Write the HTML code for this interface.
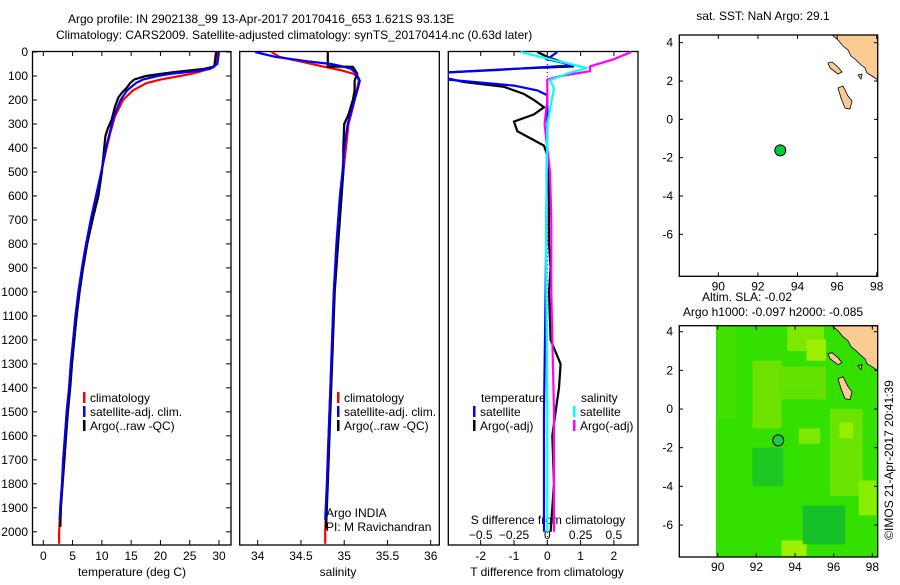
<!DOCTYPE html>
<html><head><meta charset="utf-8"><style>
body{margin:0;background:#fff;}
svg text{font-family:"Liberation Sans",sans-serif;font-size:12px;fill:#000;}
</style></head><body>
<svg id="c" width="900" height="580" xmlns="http://www.w3.org/2000/svg">
<text x="68" y="23">Argo profile: IN 2902138_99 13-Apr-2017 20170416_653 1.621S 93.13E</text>
<text x="56" y="39">Climatology: CARS2009. Satellite-adjusted climatology: synTS_20170414.nc (0.63d later)</text>
<g id="g"></g>
</svg>
<script>
// ---- data ----
const climTDepth=[0,50,65,80,90,100,115,130,160,200,270,340,400,500,600,700,800,900,1000,1100,1200,1300,1400,1500,1600,1700,1800,1900,2000,2050];
const climT=[29.7,29.5,29,27,25.5,23.3,20,17.6,15.3,13.6,12.2,11.4,10.8,9.9,9.1,8.2,7.3,6.6,6.0,5.5,5.1,4.7,4.4,4.0,3.7,3.4,3.2,2.9,2.7,2.7];
const satTDepth=[0,50,70,80,90,100,115,130,160,200,270,340,400,500,600,700,800,900,1000,1100,1200,1300,1400,1500,1600,1700,1800,1900,1950];
const satT=[30,29.7,28.5,26,22,19.5,17,15.8,14.3,13.2,12.0,11.3,10.7,9.9,9.0,8.1,7.3,6.6,6.0,5.5,5.1,4.7,4.4,4.0,3.7,3.4,3.2,2.9,2.8];
const argoTDepth=[0,60,70,85,100,115,130,150,170,190,230,280,320,350,400,500,600,700,800,900,1000,1100,1200,1300,1400,1500,1600,1700,1800,1900,1980];
const argoT=[29.5,29.2,27.5,22,17.5,15.5,14.8,14.2,13.4,12.8,12.2,11.7,11.0,10.6,10.4,10.0,9.4,8.4,7.5,6.8,6.2,5.7,5.3,4.9,4.6,4.2,3.9,3.6,3.3,3.0,2.9];
const climSDepth=[0,20,40,60,75,90,100,120,150,200,260,300,400,500,600,800,1000,1200,1400,1600,1800,2000,2050];
const climS=[34.16,34.25,34.5,34.75,34.95,35.1,35.15,35.17,35.15,35.12,35.08,35.05,35.02,34.99,34.96,34.92,34.88,34.86,34.84,34.82,34.8,34.78,34.78];
const satSDepth=[0,20,30,40,50,60,70,90,120,150,200,260,300,400,500,600,800,1000,1200,1400,1600,1800,1950];
const satS=[33.97,34.2,34.4,34.6,34.85,34.98,35.08,35.14,35.18,35.16,35.12,35.07,35.04,35.0,34.98,34.95,34.91,34.88,34.86,34.84,34.82,34.8,34.78];
const argoSDepth=[0,60,62,90,120,160,200,260,300,400,500,600,800,1000,1200,1400,1600,1800,1990];
const argoS=[34.81,34.81,35.1,35.15,35.12,35.12,35.1,35.05,35.0,34.99,34.99,34.97,34.93,34.89,34.87,34.85,34.83,34.81,34.79];
const dTsatDepth=[0,30,55,75,85,100,115,125,140,160,180,300,1000,1500,2000];
const dTsat=[0.3,0,0.8,-1.5,-3,-3,-3,-2.2,-1.0,-0.3,0,0,-0.05,-0.1,-0.1];
const dTargoDepth=[0,20,60,70,85,110,125,145,175,200,230,260,290,330,360,390,430,600,800,900,1000,1200,1300,1400,1500,1600,1800,1900,2000];
const dTargo=[-0.3,0,0.8,-1,-3,-3,-2.5,-1.3,-0.7,-0.4,-0.1,-0.4,-1.0,-0.9,-0.5,-0.1,0,0.05,0.05,0.1,0.05,0.1,0.4,0.35,0.25,0.15,0.2,0.15,0.1];
const dSsatDepth=[0,30,67,90,117,150,300,800,1500,2000];
const dSsat=[-0.2,0.02,0.3,0.15,0.02,0.05,0,-0.01,0,0];
const dSargoDepth=[0,30,60,80,100,115,200,300,500,700,1000,1500,2000];
const dSargo=[0.63,0.5,0.32,0.32,0.1,0,0,-0.02,0.02,0.03,0.03,0.05,0.05];
const depthTicks=[0,100,200,300,400,500,600,700,800,900,1000,1100,1200,1300,1400,1500,1600,1700,1800,1900,2000];
const tTicks=[0,5,10,15,20,25,30];
const sTicks=[34,34.5,35,35.5,36];
const dTTicks=[-2,-1,0,1,2];
const dSTicks=[-0.5,-0.25,0,0.25,0.5];
const latTicks=[4,2,0,-2,-4,-6];
const lonTicks=[90,92,94,96,98];
const argoLon=93.13, argoLat=-1.621;

// ---- scales ----
const yD=d=>52+d*0.2399;
const xT=t=>43.3+t*5.857;
const xS=s=>257.7+(s-34)*86.5;
const xdT=t=>547.3+t*33.3;
const xdS=s=>547.3+s*133.2;
const NS='http://www.w3.org/2000/svg';
const G=document.getElementById('g');
function mk(tag,attrs,parent){const e=document.createElementNS(NS,tag);for(const k in attrs)e.setAttribute(k,attrs[k]);(parent||G).appendChild(e);return e;}
function txt(x,y,s,anchor,parent){const e=mk('text',{x:x,y:y,'text-anchor':anchor||'start'},parent);e.textContent=s;return e;}
function line(xs,ds,fx,color,w,name,clipId){
  const pts=xs.map((v,i)=>fx(v).toFixed(1)+','+yD(ds[i]).toFixed(1)).join(' ');
  const p=mk('polyline',{points:pts,fill:'none',stroke:color,'stroke-width':w,'clip-path':'url(#'+clipId+')'});
  
  
}
const defs=mk('defs',{});
function clip(id,x,y,w,h){const c=mk('clipPath',{id:id},defs);mk('rect',{x:x,y:y,width:w,height:h},c);}
function frame(x0,x1,name){const r=mk('rect',{x:x0,y:51.5,width:x1-x0,height:493.5,fill:'none',stroke:'#000','stroke-width':1.3});
  
  }
clip('c1',33,51,198,494);clip('c2',240,51,199,494);clip('c3',448,51,190,494);
frame(32.5,231,'temperature-panel');frame(239.7,439.3,'salinity-panel');frame(448.3,638,'difference-panel');
depthTicks.forEach(d=>{const y=yD(d);
  mk('line',{x1:32.5,x2:37,y1:y,y2:y,stroke:'#000'});mk('line',{x1:226,x2:231,y1:y,y2:y,stroke:'#000'});
  const t=txt(28,y+4,String(d),'end');});
tTicks.forEach(v=>{const x=xT(v);mk('line',{x1:x,x2:x,y1:545,y2:540,stroke:'#000'});mk('line',{x1:x,x2:x,y1:51.5,y2:56,stroke:'#000'});
  const t=txt(x,560,String(v),'middle');});
sTicks.forEach(v=>{const x=xS(v);mk('line',{x1:x,x2:x,y1:545,y2:540,stroke:'#000'});
  const t=txt(x,560,String(v),'middle');});
dTTicks.forEach(v=>{const x=xdT(v);mk('line',{x1:x,x2:x,y1:545,y2:540,stroke:'#000'});mk('line',{x1:x,x2:x,y1:51.5,y2:56,stroke:'#000'});
  const t=txt(x,560,String(v),'middle');});
dSTicks.forEach(v=>{const x=xdS(v);
  const t=txt(x,539,String(v).replace('-','\u2212'),'middle');});
let t;
t=txt(132,576,'temperature (deg C)','middle');
t=txt(338,576,'salinity','middle');
t=txt(547,576,'T difference from climatology','middle');
t=txt(548,524,'S difference from climatology','middle');
mk('line',{x1:xdT(0),x2:xdT(0),y1:52,y2:545,stroke:'#000','stroke-dasharray':'1,3'});
line(climT,climTDepth,xT,'#f00',2.2,'climatology-temperature-line','c1');
line(argoT,argoTDepth,xT,'#000',2.2,'argo-temperature-line','c1');
line(satT,satTDepth,xT,'#00f',2.2,'satellite-temperature-line','c1');
line(climS,climSDepth,xS,'#f00',2.2,'climatology-salinity-line','c2');
line(argoS,argoSDepth,xS,'#000',2.2,'argo-salinity-line','c2');
line(satS,satSDepth,xS,'#00f',2.2,'satellite-salinity-line','c2');
line(dTargo,dTargoDepth,xdT,'#000',2.2,'argo-t-diff-line','c3');
line(dTsat,dTsatDepth,xdT,'#00f',2.2,'satellite-t-diff-line','c3');
line(dSargo,dSargoDepth,xdS,'#f0f',2.2,'argo-s-diff-line','c3');
line(dSsat,dSsatDepth,xdS,'#0ff',2.2,'satellite-s-diff-line','c3');
function leg(x,y,color,label,name){mk('rect',{x:x,y:y-10,width:2.5,height:11,fill:color});
  const e=txt(x+7,y,label);}
leg(83,402,'#f00','climatology','legend-climatology');
leg(83,416,'#00f','satellite-adj. clim.','legend-satellite-adj');
leg(83,430,'#000','Argo(..raw -QC)','legend-argo');
leg(337,402,'#f00','climatology','legend-climatology-2');
leg(337,416,'#00f','satellite-adj. clim.','legend-satellite-adj-2');
leg(337,430,'#000','Argo(..raw -QC)','legend-argo-2');
t=txt(481,402,'temperature');
t=txt(581,402,'salinity');
leg(473,416,'#00f','satellite','legend-t-satellite');
leg(473,430,'#000','Argo(-adj)','legend-t-argo');
leg(573,416,'#0ff','satellite','legend-s-satellite');
leg(573,430,'#f0f','Argo(-adj)','legend-s-argo');
t=txt(326,517,'Argo INDIA');
t=txt(326,531,'PI: M Ravichandran');

function map(top,bottom,lat4y,latScale,lon90x,lonScale,field,name){
  const X=l=>lon90x+(l-90)*lonScale, Y=l=>lat4y-(l-4)*latScale;
  const gid='m'+Math.round(top);clip(gid,679.3,top,198.4,bottom-top);
  const gm=mk('g',{'clip-path':'url(#'+gid+')'});
  if(field){
    mk('rect',{x:716,y:top,width:162,height:bottom-top,fill:'#33e000'},gm);
    const patches=[[93.6,95.5,3,4.4,'#7de800'],[94.6,95.6,2.5,3.6,'#9ef000'],[91.8,93.3,-1,2.5,'#6de400'],[93.2,95.6,0.5,2.2,'#63e200'],[95.8,97.5,-4.5,0,'#6ae400'],[96.3,97,-1.5,-0.7,'#96ef00'],[97.3,98.2,-5.5,-3.7,'#8aee00'],[93.3,94.6,-7.6,-6.8,'#9ef000'],[91.8,93.4,-4,-2,'#1ec820'],[94.4,96.6,-7,-5,'#16c028'],[90,91,-0.5,4.4,'#44e000'],[94.2,95.3,-1.8,-1,'#7de800']];
    patches.forEach(p=>mk('rect',{x:X(p[0]),y:Y(p[3]),width:(p[1]-p[0])*lonScale,height:(p[3]-p[2])*latScale,fill:p[4]},gm));
  }
  const dy=top-35;
  mk('polygon',{points:`832,${35+dy} 838,${40+dy} 843,${46+dy} 848,${50+dy} 851,${56+dy} 856,${60+dy} 860,${64+dy} 865,${68+dy} 867,${73+dy} 872,${76+dy} 878,${80+dy} 878,${35+dy}`,fill:'#fccb94',stroke:'#000','stroke-width':0.8},gm);
  mk('polygon',{points:`828,${63+dy} 832,${62+dy} 838,${67+dy} 842,${72+dy} 838,${74+dy} 830,${68+dy}`,fill:'#fccb94',stroke:'#000','stroke-width':0.8},gm);
  mk('polygon',{points:`838,${88+dy} 843,${86+dy} 848,${96+dy} 852,${101+dy} 850,${109+dy} 845,${108+dy} 841,${98+dy}`,fill:'#fccb94',stroke:'#000','stroke-width':0.8},gm);
  mk('polygon',{points:`858,${75+dy} 862,${74+dy} 861,${79+dy}`,fill:'#fccb94',stroke:'#000','stroke-width':0.8},gm);
  const fr=mk('rect',{x:679.3,y:top,width:198.4,height:bottom-top,fill:'none',stroke:'#000','stroke-width':1.3});
  
  
  latTicks.forEach(l=>{const y=Y(l);mk('line',{x1:679.3,x2:683,y1:y,y2:y,stroke:'#000'});mk('line',{x1:874,x2:877.7,y1:y,y2:y,stroke:'#000'});
    const e=txt(673,y+4,String(l),'end');});
  lonTicks.forEach(l=>{const x=X(l);mk('line',{x1:x,x2:x,y1:bottom,y2:bottom-4,stroke:'#000'});mk('line',{x1:x,x2:x,y1:top,y2:top+4,stroke:'#000'});
    const e=txt(x,bottom+14,String(l),'middle');});
  const dot=mk('circle',{cx:X(argoLon),cy:Y(argoLat),r:5.5,fill:field?'#1ec850':'#00cc33',stroke:'#000','stroke-width':1});
  
  
}
map(35,276.3,42.7,19.16,718.3,19.8,false,'sst-map');
map(325.7,557,331.7,19.33,717.7,19.33,true,'sla-map');
t=txt(763,20,'sat. SST: NaN Argo: 29.1','middle');
t=txt(747,301,'Altim. SLA: -0.02','middle');
t=txt(773,316,'Argo h1000: -0.097 h2000: -0.085','middle');
t=txt(0,0,'\u00a9IMOS 21-Apr-2017 20:41:39','middle');t.setAttribute('transform','translate(893,460) rotate(-90)');

</script>
</body></html>
